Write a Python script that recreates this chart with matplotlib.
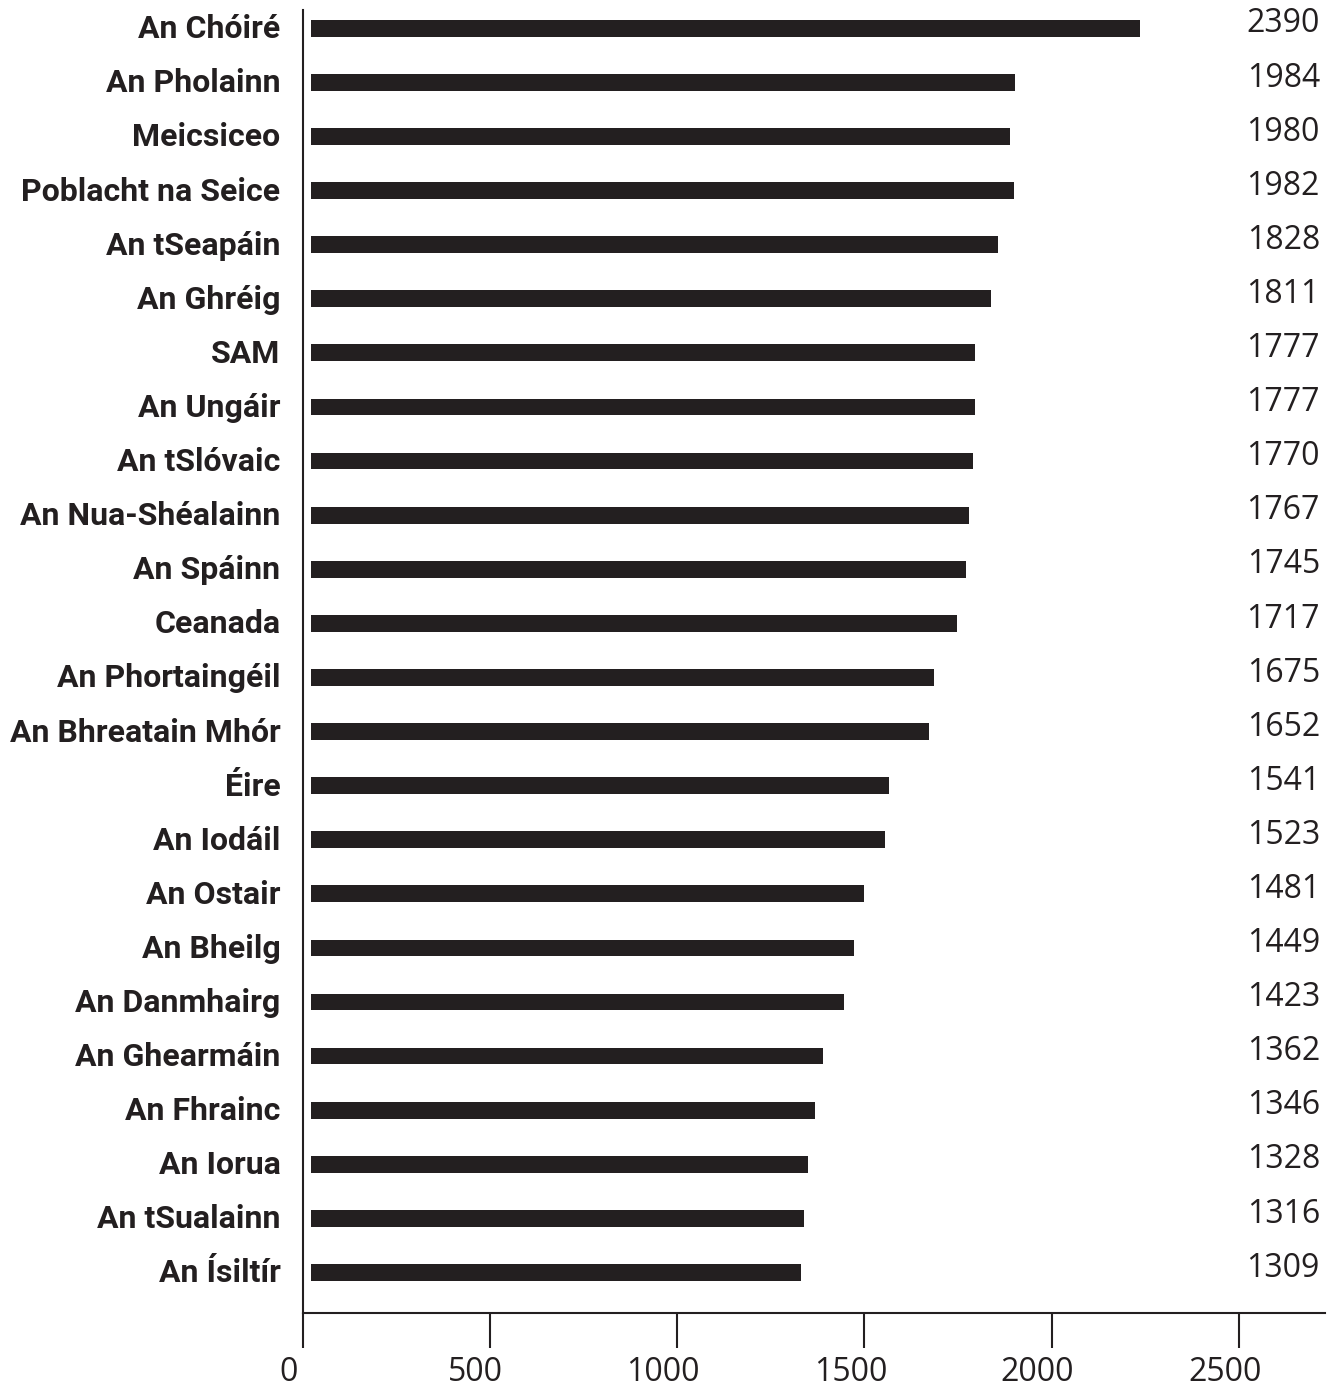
import matplotlib
matplotlib.use("Agg")
import matplotlib.pyplot as plt
import matplotlib.transforms as mtransforms

# =========================================================
# DATA
# =========================================================

countries = [
    "An Chóiré", "An Pholainn", "Meicsiceo", "Poblacht na Seice",
    "An tSeapáin", "An Ghréig", "SAM", "An Ungáir", "An tSlóvaic",
    "An Nua-Shéalainn", "An Spáinn", "Ceanada", "An Phortaingéil",
    "An Bhreatain Mhór", "Éire", "An Iodáil", "An Ostair", "An Bheilg",
    "An Danmhairg", "An Ghearmáin", "An Fhrainc", "An Iorua",
    "An tSualainn", "An Ísiltír",
]

# printed value labels
values = [
    2390, 1984, 1980, 1982, 1828, 1811, 1777, 1777, 1770, 1767, 1745, 1717,
    1675, 1652, 1541, 1523, 1481, 1449, 1423, 1362, 1346, 1328, 1316, 1309,
]

# bar lengths as drawn in the picture (top bars are shorter than their labels)
bar_lengths = [
    2214, 1880, 1866, 1877, 1834, 1816, 1773, 1773, 1768, 1757, 1749, 1725,
    1664, 1650, 1543, 1533, 1477, 1450, 1423, 1367, 1346, 1327, 1316, 1308,
]

xticks = [0, 500, 1000, 1500, 2000, 2500]

# =========================================================
# STYLE
# =========================================================

ink = "#231f20"
bar_start = 22

fig = plt.figure(figsize=(13.37, 13.88), dpi=100)
ax = fig.add_axes([0.2264, 0.0540, 0.991 - 0.2264, 0.9928 - 0.0540])

ypos = list(range(len(countries)))

ax.barh(ypos, bar_lengths, left=bar_start, height=0.31, color=ink)

ax.set_xlim(0, 2730)
ax.set_ylim(23.75, -0.338)

# spines
for side in ["top", "right"]:
    ax.spines[side].set_visible(False)
for side in ["left", "bottom"]:
    ax.spines[side].set_color(ink)
    ax.spines[side].set_linewidth(1.5)

# x axis
ax.set_xticks(xticks)
ax.set_xticklabels([str(t) for t in xticks], fontsize=23, family="Open Sans", color=ink)
ax.tick_params(axis="x", direction="out", length=25, width=1.5, color=ink, pad=6)
offset = mtransforms.ScaledTranslation(-0.14, 0, fig.dpi_scale_trans)
for lbl in ax.get_xticklabels():
    lbl.set_transform(lbl.get_transform() + offset)

# y axis (country names)
ax.set_yticks(ypos)
ax.set_yticklabels(countries, fontsize=23, family="Roboto", fontweight="bold", color=ink)
ax.tick_params(axis="y", length=0, pad=16)
for lbl in ax.get_yticklabels():
    lbl.set_transform(lbl.get_transform() +
                      mtransforms.ScaledTranslation(0, 0.02, fig.dpi_scale_trans))

# value labels on the right
for y, v in zip(ypos, values):
    ax.text(0.995, y - 0.08, str(v), transform=ax.get_yaxis_transform(),
            ha="right", va="center", fontsize=23, family="Open Sans", color=ink)

fig.savefig("out.png", dpi=100)
